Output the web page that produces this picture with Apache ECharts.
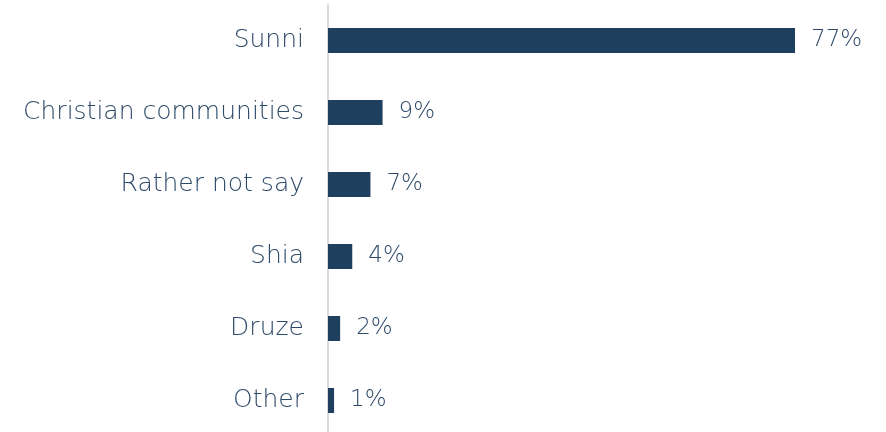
<!DOCTYPE html>
<html>
<head>
<meta charset="utf-8">
<script src="https://cdn.jsdelivr.net/npm/echarts@6/dist/echarts.min.js"></script>
<style>
  html, body { margin: 0; padding: 0; background: #fff; overflow: hidden; }
  #chart { width: 886px; height: 442px; }
</style>
</head>
<body>
<div id="chart"></div>
<script>
var categories = ['Sunni', 'Christian communities', 'Rather not say', 'Shia', 'Druze', 'Other'];
var values = [77, 9, 7, 4, 2, 1];

var chart = echarts.init(document.getElementById('chart'));
var textColor = '#2c4968';
var font = 'DejaVu Sans';
var option = {
    animation: false,
    grid: {
        left: 328,
        right: 91,
        top: 4.5,
        height: 432,
        containLabel: false
    },
    xAxis: {
        type: 'value',
        min: 0,
        max: 77,
        show: false
    },
    yAxis: {
        type: 'category',
        inverse: true,
        data: categories,
        axisLine: { show: true, lineStyle: { color: '#d9d9d9', width: 2 } },
        axisTick: { show: false },
        axisLabel: {
            margin: 24,
            color: textColor,
            fontFamily: font,
            fontWeight: 200,
            fontSize: 25
        }
    },
    series: [
        {
            type: 'bar',
            data: values,
            barWidth: 25,
            itemStyle: { color: '#1f3f5f' },
            label: {
                show: true,
                position: 'right',
                distance: 16,
                formatter: '{c}%',
                color: textColor,
                fontFamily: font,
                fontWeight: 200,
                fontSize: 23
            }
        }
    ]
};
chart.setOption(option);
</script>
</body>
</html>
